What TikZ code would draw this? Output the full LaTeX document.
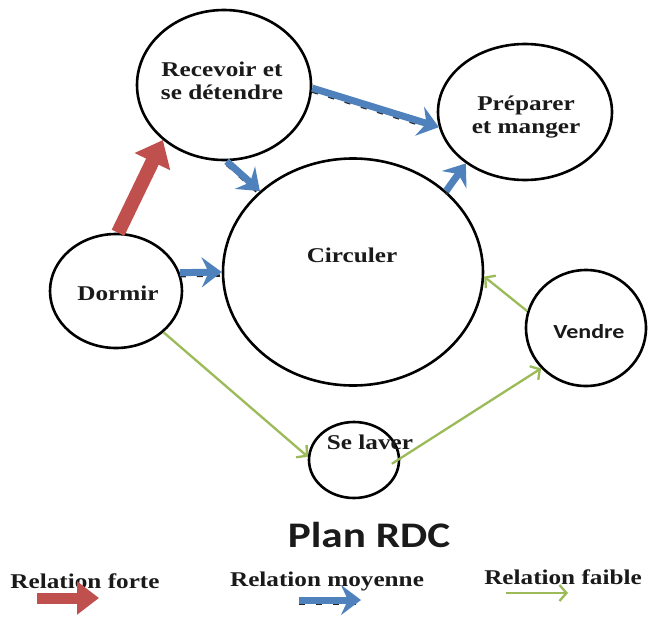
\documentclass[tikz,border=0pt]{standalone}
\usepackage{fontspec}
\usetikzlibrary{shapes.geometric,arrows.meta}
\newfontfamily\lblserif{Liberation Serif}[FakeStretch=1.2]
\newfontfamily\lblsansfam{Carlito}[FakeStretch=1.2]
\definecolor{forte}{HTML}{C0504D}
\definecolor{moyenne}{HTML}{4F81BD}
\definecolor{faible}{HTML}{9BBB59}
\definecolor{ink}{HTML}{1A1A1A}

\begin{document}
\begin{tikzpicture}[x=1pt,y=-1pt,
  zone/.style={ellipse, draw=black, line width=2.6pt, inner sep=0pt, fill=white},
  lbl/.style={text=ink, font=\lblserif\bfseries\fontsize{21}{23}\selectfont, align=center, inner sep=0pt},
  lblsans/.style={text=ink, font=\lblsansfam\bfseries\fontsize{20}{23}\selectfont, inner sep=0pt},
  relforte/.style={draw=forte, line width=14pt, -{Triangle[length=24pt,width=38pt]}},
  relmoy/.style={draw=moyenne, line width=7pt, -{Stealth[length=20pt,width=30pt,inset=7pt]}},
  relmoyshadow/.style={draw=black!85, line width=2.5pt, dash pattern=on 6pt off 11pt, transform canvas={yshift=-3.5pt}},
  relfaible/.style={draw=faible, line width=2.3pt, -{Straight Barb[length=7pt,width=16pt]}},
]
\useasboundingbox (0,0) rectangle (653,616);

% rooms
\node[zone, minimum width=174pt, minimum height=150pt] (recv) at (224,85) {};
\node[zone, minimum width=174pt, minimum height=136pt] (prep) at (525,112) {};
\node[zone, minimum width=260pt, minimum height=227pt] (circ) at (353,272) {};
\node[zone, minimum width=132pt, minimum height=114pt] (dorm) at (116,291) {};
\node[zone, minimum width=120pt, minimum height=116pt] (vend) at (586,328) {};
\node[zone, minimum width=90pt, minimum height=76pt] (lav) at (354,460) {};

% room names
\node[lbl] (t-recv) at (222,81) {Recevoir et\\se détendre};
\node[lbl] (t-prep) at (526,117) {Préparer\\et manger};
\node[lbl] (t-circ) at (352,255) {Circuler};
\node[lbl] (t-dorm) at (118,293) {Dormir};
\node[lblsans] (t-vend) at (589,332) {Vendre};
\node[lbl] (t-lav) at (370,442) {Se laver};

% strong relation
\draw[relforte] (dorm.88) -- (recv.222);

% medium relations
\draw[relmoyshadow] (recv.358) -- (prep.190);
\draw[relmoy] (recv.358) -- (prep.190);
\draw[relmoyshadow] (recv.272) -- (circ.139);
\draw[relmoy] (recv.272) -- (circ.139);
\draw[relmoyshadow] (dorm.16) -- (circ.180);
\draw[relmoy] (dorm.16) -- (circ.180);
\draw[relmoyshadow] (circ.41) -- (prep.221);
\draw[relmoy] (circ.41) -- (prep.221);

% weak relations
\draw[relfaible] (dorm.319) -- (lav.176);
\draw[relfaible, shorten <=-10pt] (lav.2) -- (vend.222);
\draw[relfaible] (vend.164) -- (circ.358);

% title
\node[text=ink, font=\lblsansfam\bfseries\fontsize{36}{40}\selectfont, inner sep=0pt] (title) at (369,535) {Plan RDC};

% legend
\node[lbl] (lg-forte) at (85,581) {Relation forte};
\node[lbl] (lg-moy) at (327,581) {Relation moyenne};
\node[lbl] (lg-faible) at (563,577) {Relation faible};
\coordinate (lf-a) at (37,598);
\coordinate (lf-b) at (99,598);
\draw[relforte, line width=11pt, -{Triangle[length=22pt,width=32pt]}] (lf-a) -- (lf-b);
\coordinate (lm-a) at (299,600);
\coordinate (lm-b) at (361,600);
\draw[relmoyshadow] (lm-a) -- (lm-b);
\draw[relmoy] (lm-a) -- (lm-b);
\coordinate (lw-a) at (506,593);
\coordinate (lw-b) at (568,593);
\draw[relfaible] (lw-a) -- (lw-b);
\end{tikzpicture}
\end{document}
